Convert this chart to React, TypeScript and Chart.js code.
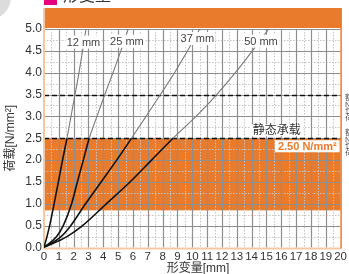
import React, { useEffect, useRef } from "react";
import { Chart, registerables } from "chart.js";

Chart.register(...registerables);

const loads = [0, 0.25, 0.5, 1.0, 1.5, 2.0, 2.5, 3.0, 3.5, 4.0, 4.5, 5.0];
const def12 = [0, 0.2, 0.38, 0.68, 0.97, 1.25, 1.55, 1.82, 2.09, 2.36, 2.6, 2.83];
const def25 = [0, 0.85, 1.3, 1.86, 2.25, 2.65, 3.05, 3.57, 4.1, 4.65, 5.18, 5.68];
const def37 = [0, 1.15, 1.8, 2.8, 3.85, 4.9, 5.9, 6.88, 7.85, 8.8, 9.68, 10.5];
const def50 = [0, 1.55, 2.6, 4.2, 5.8, 7.25, 8.7, 10.25, 11.65, 12.9, 14.05, 15.15];

const seriesNames = ["12 mm", "25 mm", "37 mm", "50 mm"];
const seriesDefs = [def12, def25, def37, def50];
const labelX = [2.66, 5.59, 10.34, 14.63];
const labelY = [4.7, 4.72, 4.78, 4.72];

const xTicks = Array.from({ length: 21 }, (_, i) => i);
const yMin = 0;
const yMax = 5;
const staticLoad = 2.5;
const bandLow = 0.85;
const dashedLoads = [3.5, 2.5];
const staticLabel = "静态承载";
const staticLabelX = 15.7;
const staticValueLabel = "2.50 N/mm²";
const xTitle = "形变量[mm]";
const yTitle = "荷载[N/mm²]";
const headTitle = "形变量";

const ORANGE = "#E97B2D";
const LIGHT_ORANGE = "#F6C7A2";
const GRID = "#8E8E8E";
const MINOR = "#C4C4C4";
const FONT = "'Liberation Sans', 'Noto Sans CJK SC', sans-serif";

const decorPlugin = {
  id: "decor",
  beforeDraw(chart: any) {
    const { ctx } = chart;
    const { left, right, top } = chart.chartArea;
    ctx.save();
    ctx.fillStyle = "#DCDCDC";
    ctx.beginPath();
    ctx.arc(-12, -3, 23, 0, Math.PI * 2);
    ctx.fill();
    ctx.fillStyle = "#E4007F";
    ctx.fillRect(left, -6, 13, 11);
    ctx.fillStyle = "#333";
    ctx.font = `16px ${FONT}`;
    ctx.textBaseline = "bottom";
    ctx.textAlign = "left";
    ctx.fillText(headTitle, 63, 5);
    ctx.fillStyle = ORANGE;
    ctx.fillRect(left, 8, right - left + 1, top - 9);
    ctx.restore();
  },
  beforeDatasetsDraw(chart: any) {
    const { ctx } = chart;
    const { left, right, top, bottom } = chart.chartArea;
    const x = chart.scales.x;
    const y = chart.scales.y;
    ctx.save();
    const yb = y.getPixelForValue(bandLow);
    const yt = y.getPixelForValue(staticLoad);
    ctx.fillStyle = ORANGE;
    ctx.fillRect(left, yt, right - left, yb - yt);
    ctx.strokeStyle = MINOR;
    ctx.lineWidth = 1;
    ctx.setLineDash([1.5, 1.5]);
    for (let v = 0.5; v < 20; v += 1) {
      const px = Math.round(x.getPixelForValue(v)) + 0.5;
      ctx.beginPath();
      ctx.moveTo(px, top);
      ctx.lineTo(px, bottom);
      ctx.stroke();
    }
    for (let v = 0.25; v < 5; v += 0.5) {
      const py = Math.round(y.getPixelForValue(v)) + 0.5;
      ctx.beginPath();
      ctx.moveTo(left, py);
      ctx.lineTo(right, py);
      ctx.stroke();
    }
    ctx.setLineDash([]);
    ctx.strokeStyle = GRID;
    ctx.lineWidth = 1.2;
    for (let v = 1; v < 20; v += 1) {
      const px = Math.round(x.getPixelForValue(v)) + 0.5;
      ctx.beginPath();
      ctx.moveTo(px, top);
      ctx.lineTo(px, bottom);
      ctx.stroke();
    }
    for (let v = 0.5; v <= 5.001; v += 0.5) {
      const py = Math.round(y.getPixelForValue(v)) + 0.5;
      ctx.beginPath();
      ctx.moveTo(left, py);
      ctx.lineTo(right, py);
      ctx.stroke();
    }
    ctx.strokeStyle = "#111";
    ctx.lineWidth = 1.4;
    ctx.setLineDash([5, 3]);
    dashedLoads.forEach((v) => {
      const py = Math.round(y.getPixelForValue(v)) + 0.5;
      ctx.beginPath();
      ctx.moveTo(left, py);
      ctx.lineTo(right, py);
      ctx.stroke();
    });
    ctx.setLineDash([]);
    ctx.strokeStyle = LIGHT_ORANGE;
    ctx.lineWidth = 2;
    ctx.beginPath();
    ctx.moveTo(left, 8);
    ctx.lineTo(left, bottom + 1);
    ctx.lineTo(right, bottom + 1);
    ctx.stroke();
    ctx.strokeStyle = ORANGE;
    ctx.lineWidth = 1.5;
    ctx.beginPath();
    ctx.moveTo(right + 0.5, 8);
    ctx.lineTo(right + 0.5, bottom + 1);
    ctx.stroke();
    ctx.restore();
  },
  afterDatasetsDraw(chart: any) {
    const { ctx } = chart;
    const { right, top, bottom } = chart.chartArea;
    const x = chart.scales.x;
    const y = chart.scales.y;
    ctx.save();
    ctx.font = `11px ${FONT}`;
    ctx.textAlign = "center";
    ctx.textBaseline = "middle";
    seriesNames.forEach((name, i) => {
      const px = x.getPixelForValue(labelX[i]);
      const py = y.getPixelForValue(labelY[i]);
      const w = ctx.measureText(name).width + 2;
      ctx.fillStyle = "#fff";
      ctx.fillRect(px - w / 2, py - 6.5, w, 13);
      ctx.fillStyle = "#444";
      ctx.fillText(name, px, py + 0.5);
    });
    const sy = y.getPixelForValue(staticLoad);
    ctx.font = `12px ${FONT}`;
    const sw = ctx.measureText(staticLabel).width + 4;
    const sx = x.getPixelForValue(staticLabelX);
    ctx.fillStyle = "#fff";
    ctx.fillRect(sx - sw / 2, sy - 14, sw, 12);
    ctx.fillStyle = "#333";
    ctx.fillText(staticLabel, sx, sy - 7.5);
    ctx.font = `bold 11px ${FONT}`;
    const vw = ctx.measureText(staticValueLabel).width + 6;
    ctx.fillStyle = "#fff";
    ctx.fillRect(right - vw - 1, sy + 2, vw, 12);
    ctx.fillStyle = ORANGE;
    ctx.fillText(staticValueLabel, right - 1 - vw / 2, sy + 8.5);
    ctx.fillStyle = "#333";
    ctx.font = `12px ${FONT}`;
    ctx.fillText(xTitle, 198, 268.5);
    ctx.save();
    ctx.translate(11, (top + bottom) / 2);
    ctx.rotate(-Math.PI / 2);
    ctx.fillText(yTitle, 0, 0);
    ctx.restore();
    ctx.font = `8px ${FONT}`;
    ctx.textAlign = "left";
    ctx.fillStyle = "#555";
    const chars = ["額", "N", "也", "荷"];
    [98, 133].forEach((base) => {
      chars.forEach((c, k) => {
        ctx.fillText(c, 345, base + k * 6.5);
      });
    });
    ctx.restore();
  },
};

export default function App() {
  const ref = useRef<HTMLCanvasElement>(null);
  useEffect(() => {
    if (!ref.current) return;
    const datasets = seriesDefs.map((defs, i) => ({
      label: seriesNames[i],
      data: defs.map((d, k) => ({ x: d, y: loads[k] })),
      borderColor: "#111",
      borderWidth: 1.5,
      pointRadius: 0,
      cubicInterpolationMode: "monotone" as const,
      fill: false,
      segment: {
        borderColor: (c: any) => (c.p0.parsed.y >= staticLoad - 1e-6 ? "#7a7a7a" : "#111"),
        borderWidth: (c: any) => (c.p0.parsed.y >= staticLoad - 1e-6 ? 1.1 : 1.6),
      },
    }));
    const chart = new Chart(ref.current, {
      type: "line",
      data: { datasets },
      options: {
        animation: false,
        responsive: false,
        devicePixelRatio: 1,
        layout: { padding: { left: 0, right: 8, top: 29, bottom: 0 } },
        plugins: { legend: { display: false }, tooltip: { enabled: false } },
        scales: {
          x: {
            type: "linear",
            min: 0,
            max: 20,
            afterBuildTicks: (s: any) => {
              s.ticks = xTicks.map((v) => ({ value: v }));
            },
            afterFit: (s: any) => {
              s.height = 26.5;
            },
            grid: { display: false, drawTicks: false },
            border: { display: false },
            ticks: { color: "#333", font: { family: FONT, size: 11.5 }, padding: 2, maxRotation: 0, autoSkip: false },
          },
          y: {
            type: "linear",
            min: yMin,
            max: yMax,
            ticks: {
              stepSize: 0.5,
              color: "#333",
              font: { family: FONT, size: 12 },
              padding: 2,
              callback: (v: any) => Number(v).toFixed(1),
            },
            afterFit: (s: any) => {
              s.width = 44;
            },
            grid: { display: false, drawTicks: false },
            border: { display: false },
          },
        },
      },
      plugins: [decorPlugin],
    });
    return () => chart.destroy();
  }, []);
  return (
    <div style={{ position: "fixed", left: 0, top: 0, width: 349, height: 274, background: "#fff" }}>
      <canvas ref={ref} width={349} height={274} style={{ display: "block", width: 349, height: 274 }} />
    </div>
  );
}
